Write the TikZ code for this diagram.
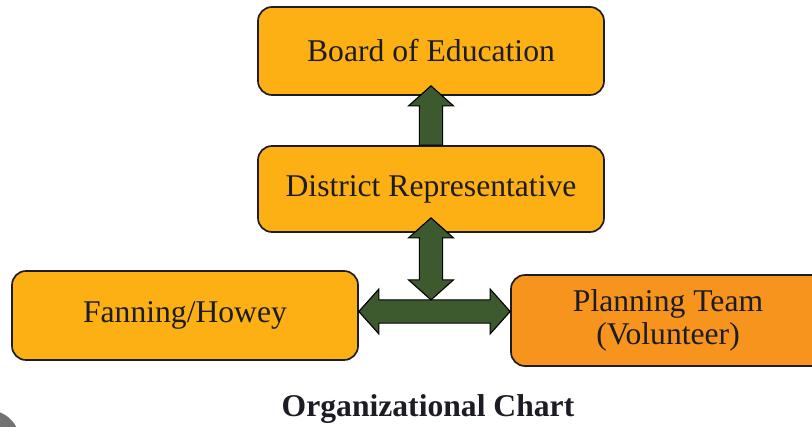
\documentclass[tikz,border=0pt]{standalone}
\usepackage{fontspec}
\setmainfont{Liberation Serif}
\usetikzlibrary{calc}

\definecolor{boxorange}{HTML}{FDB013}
\definecolor{teamorange}{HTML}{F7941E}
\definecolor{arrowgreen}{HTML}{3D5A2F}
\definecolor{inkblack}{HTML}{1C1C24}

% sizes of the block arrows (half shaft, half head, head length)
\newcommand{\arrshaft}{0.29}
\newcommand{\arrhead}{0.56}
\newcommand{\arrlen}{0.5}

\begin{document}
\begin{tikzpicture}[
    box/.style={draw=inkblack, line width=1.2pt, rounded corners=0.35cm, fill=boxorange,
        text=inkblack, align=center, inner sep=0pt, font=\fontsize{22.5}{24}\selectfont},
    fatarrow/.style={draw=black, line width=0.8pt, fill=arrowgreen, line join=miter}]

    \useasboundingbox (0,0) rectangle (20.3,10.65);

    \fill [black!55] (-0.3,-0.4) circle (0.8);

    \node [box, minimum width=8.65cm, minimum height=2.2cm](board) at (10.775,9.375) {Board of Education};

    \node [box, minimum width=8.65cm, minimum height=2.15cm](district) at (10.775,5.925) {District Representative};

    \node [box, minimum width=8.65cm, minimum height=2.225cm](fanning) at (4.625,2.7625) {Fanning/Howey};

    \node [box, fill=teamorange, minimum width=7.85cm, minimum height=2.275cm](planning) at (16.7,2.6375) {Planning Team\\(Volunteer)};

    \node [font=\fontsize{22.5}{27}\selectfont\bfseries, text=inkblack](title) at (10.7,0.42) {Organizational Chart};

    % district -> board
    \coordinate (uptip) at ($(board.south)+(0,0.25)$);
    \draw [fatarrow] ($(district.north)+(-\arrshaft,0)$) -- ($(uptip)+(-\arrshaft,-\arrlen)$)
        -- ($(uptip)+(-\arrhead,-\arrlen)$) -- (uptip) -- ($(uptip)+(\arrhead,-\arrlen)$)
        -- ($(uptip)+(\arrshaft,-\arrlen)$) -- ($(district.north)+(\arrshaft,0)$) -- cycle;

    % fanning <-> planning
    \coordinate (hub) at (district.south |- 0,2.8625);
    \coordinate (lefttip) at (fanning.east |- hub);
    \coordinate (righttip) at (planning.west |- hub);
    \draw [fatarrow] (lefttip) -- ($(lefttip)+(\arrlen,\arrhead)$) -- ($(lefttip)+(\arrlen,\arrshaft)$)
        -- ($(righttip)+(-\arrlen,\arrshaft)$) -- ($(righttip)+(-\arrlen,\arrhead)$) -- (righttip)
        -- ($(righttip)+(-\arrlen,-\arrhead)$) -- ($(righttip)+(-\arrlen,-\arrshaft)$)
        -- ($(lefttip)+(\arrlen,-\arrshaft)$) -- ($(lefttip)+(\arrlen,-\arrhead)$) -- cycle;

    % district <-> hub
    \coordinate (toptip) at ($(district.south)+(0,0.375)$);
    \coordinate (bottip) at ($(hub)+(0,\arrshaft)$);
    \draw [fatarrow] (toptip) -- ($(toptip)+(\arrhead,-\arrlen)$) -- ($(toptip)+(\arrshaft,-\arrlen)$)
        -- ($(bottip)+(\arrshaft,\arrlen)$) -- ($(bottip)+(\arrhead,\arrlen)$) -- (bottip)
        -- ($(bottip)+(-\arrhead,\arrlen)$) -- ($(bottip)+(-\arrshaft,\arrlen)$)
        -- ($(toptip)+(-\arrshaft,-\arrlen)$) -- ($(toptip)+(-\arrhead,-\arrlen)$) -- cycle;
\end{tikzpicture}
\end{document}
